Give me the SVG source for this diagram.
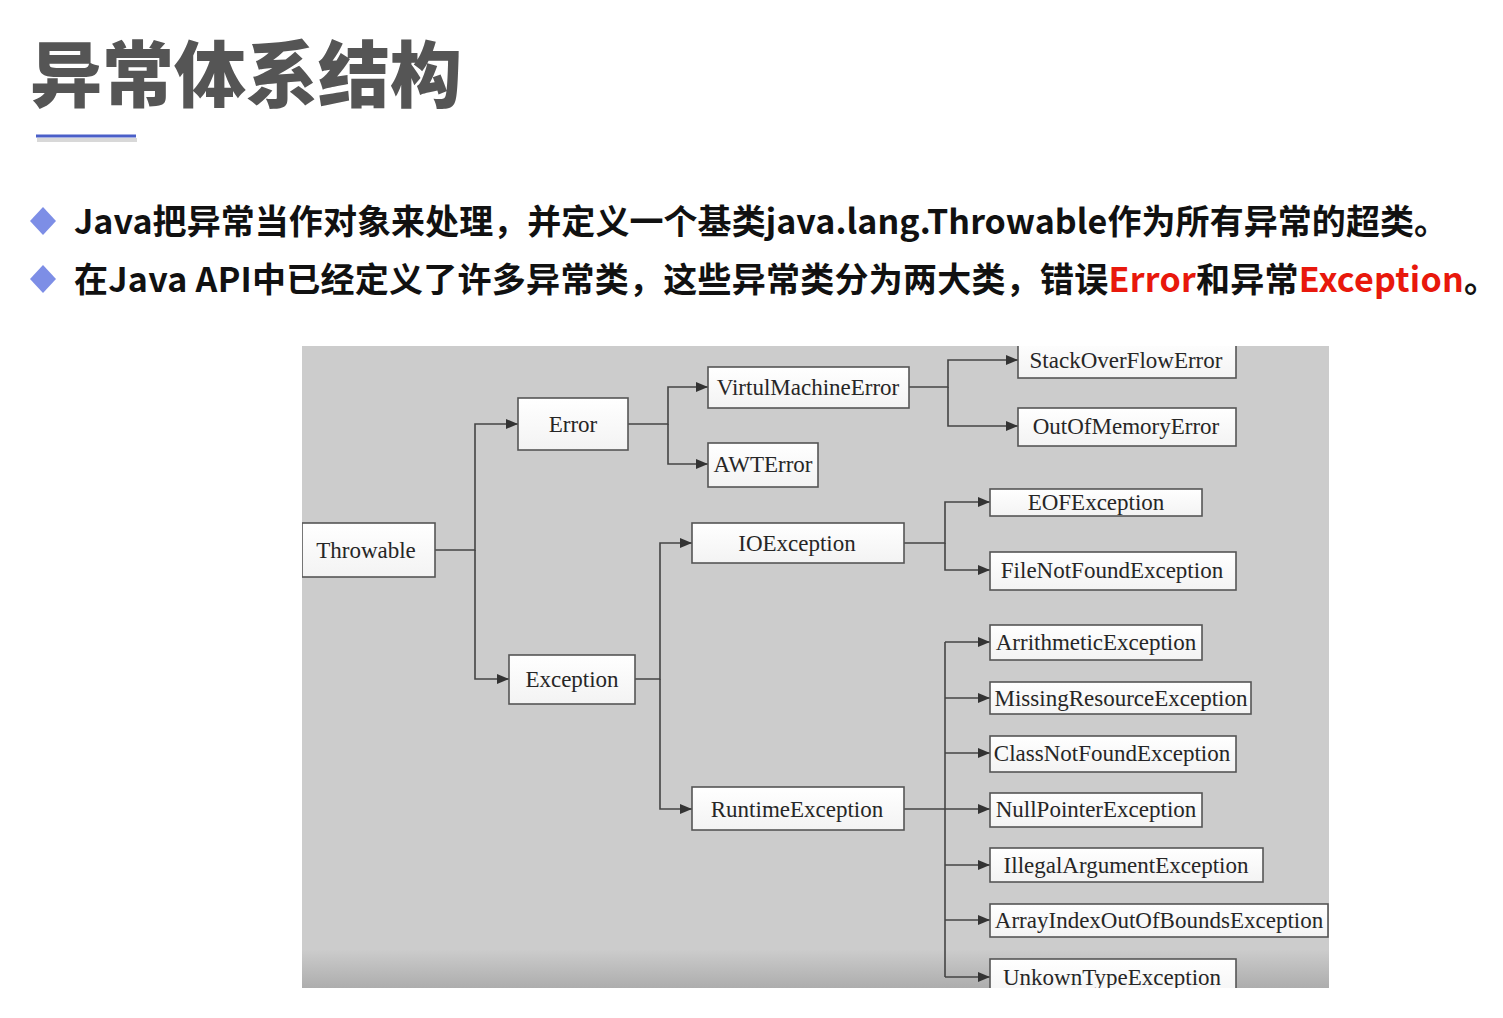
<svg xmlns="http://www.w3.org/2000/svg" width="1503" height="1018" viewBox="0 0 1503 1018">
  <style>
    .title { font-family: "Noto Sans CJK SC", "Noto Sans", sans-serif; font-weight: 900; font-size: 72px; fill: #555555; }
    .bullet { font-family: "Noto Sans CJK SC", "Noto Sans", sans-serif; font-weight: 700; font-size: 34px; fill: #111111; }
    .red { fill: #e8180c; }
    .diamond { fill: #7d8ee6; }
    .box { fill: url(#boxfill); stroke: #555555; stroke-width: 1.6; }
    .lbl { font-family: "Liberation Serif", "Times New Roman", serif; font-size: 23px; fill: #262626; text-anchor: middle; dominant-baseline: central; }
    .conn { fill: none; stroke: #444444; stroke-width: 1.6; }
  </style>
  <defs>
    <linearGradient id="boxfill" x1="0" y1="0" x2="0" y2="1">
      <stop offset="0" stop-color="#ffffff"/>
      <stop offset="1" stop-color="#f3f3f3"/>
    </linearGradient>
    <linearGradient id="panelfill" x1="0" y1="0" x2="0" y2="1">
      <stop offset="0" stop-color="#cccccc"/>
      <stop offset="0.94" stop-color="#cccccc"/>
      <stop offset="1" stop-color="#adadad"/>
    </linearGradient>
    <marker id="arr" markerUnits="userSpaceOnUse" markerWidth="13" markerHeight="12" refX="12" refY="6" orient="auto">
      <path d="M0,1 L12,6 L0,11 z" fill="#333333"/>
    </marker>
    <clipPath id="panelclip">
      <rect x="302" y="346" width="1027" height="642"/>
    </clipPath>
  </defs>

  <rect x="0" y="0" width="1503" height="1018" fill="#ffffff"/>

  <!-- Heading -->
  <text class="title" x="30" y="101">异常体系结构</text>
  <line x1="37" y1="140" x2="137" y2="140" stroke="#d8d8d8" stroke-width="4"/>
  <line x1="36" y1="136" x2="136" y2="136" stroke="#4a5fc8" stroke-width="3"/>

  <!-- Bullets -->
  <polygon class="diamond" points="43,207 56,221 43,235 30,221"/>
  <text class="bullet" x="74" y="234" textLength="1374" lengthAdjust="spacing">Java把异常当作对象来处理，并定义一个基类java.lang.Throwable作为所有异常的超类。</text>
  <polygon class="diamond" points="43,265 56,279 43,293 30,279"/>
  <text class="bullet" x="74" y="292" textLength="1424" lengthAdjust="spacing">在Java API中已经定义了许多异常类，这些异常类分为两大类，错误<tspan class="red">Error</tspan>和异常<tspan class="red">Exception</tspan>。</text>

  <!-- Diagram panel -->
  <rect x="302" y="346" width="1027" height="642" fill="url(#panelfill)"/>

  <g clip-path="url(#panelclip)">
    <g id="connectors">
      <path class="conn" d="M435,550 H475 V424 H518" marker-end="url(#arr)"/>
      <path class="conn" d="M475,550 V679 H509" marker-end="url(#arr)"/>
      <path class="conn" d="M628,424 H668 V387 H708" marker-end="url(#arr)"/>
      <path class="conn" d="M668,424 V464 H708" marker-end="url(#arr)"/>
      <path class="conn" d="M909,387 H948 V360 H1018" marker-end="url(#arr)"/>
      <path class="conn" d="M948,387 V426 H1018" marker-end="url(#arr)"/>
      <path class="conn" d="M635,679 H660 V543 H692" marker-end="url(#arr)"/>
      <path class="conn" d="M660,679 V809 H692" marker-end="url(#arr)"/>
      <path class="conn" d="M904,543 H945 V502 H990" marker-end="url(#arr)"/>
      <path class="conn" d="M945,543 V570 H990" marker-end="url(#arr)"/>
      <path class="conn" d="M904,809 H990" marker-end="url(#arr)"/>
      <path class="conn" d="M945,642 V977"/>
      <path class="conn" d="M945,642 H990" marker-end="url(#arr)"/>
      <path class="conn" d="M945,698 H990" marker-end="url(#arr)"/>
      <path class="conn" d="M945,753 H990" marker-end="url(#arr)"/>
      <path class="conn" d="M945,865 H990" marker-end="url(#arr)"/>
      <path class="conn" d="M945,920 H990" marker-end="url(#arr)"/>
      <path class="conn" d="M945,977 H990" marker-end="url(#arr)"/>
    </g>

    <g id="n-throwable"><rect class="box" x="302" y="523" width="133" height="54"/><text class="lbl" x="366" y="550">Throwable</text></g>
    <g id="n-error"><rect class="box" x="518" y="398" width="110" height="52"/><text class="lbl" x="573" y="424">Error</text></g>
    <g id="n-exception"><rect class="box" x="509" y="655" width="126" height="49"/><text class="lbl" x="572" y="679">Exception</text></g>
    <g id="n-vme"><rect class="box" x="708" y="367" width="201" height="41"/><text class="lbl" x="808" y="387">VirtulMachineError</text></g>
    <g id="n-awt"><rect class="box" x="708" y="443" width="110" height="44"/><text class="lbl" x="763" y="464">AWTError</text></g>
    <g id="n-soe"><rect class="box" x="1018" y="340" width="218" height="38"/><text class="lbl" x="1126" y="360">StackOverFlowError</text></g>
    <g id="n-oom"><rect class="box" x="1018" y="408" width="218" height="38"/><text class="lbl" x="1126" y="426">OutOfMemoryError</text></g>
    <g id="n-io"><rect class="box" x="692" y="523" width="212" height="40"/><text class="lbl" x="797" y="543">IOException</text></g>
    <g id="n-runtime"><rect class="box" x="692" y="787" width="212" height="43"/><text class="lbl" x="797" y="809">RuntimeException</text></g>
    <g id="n-eof"><rect class="box" x="990" y="489" width="212" height="27"/><text class="lbl" x="1096" y="502">EOFException</text></g>
    <g id="n-fnf"><rect class="box" x="990" y="552" width="246" height="38"/><text class="lbl" x="1112" y="570">FileNotFoundException</text></g>
    <g id="n-arith"><rect class="box" x="990" y="625" width="212" height="35"/><text class="lbl" x="1096" y="642">ArrithmeticException</text></g>
    <g id="n-missing"><rect class="box" x="990" y="682" width="261" height="32"/><text class="lbl" x="1121" y="698">MissingResourceException</text></g>
    <g id="n-cnf"><rect class="box" x="990" y="736" width="246" height="36"/><text class="lbl" x="1112" y="753">ClassNotFoundException</text></g>
    <g id="n-npe"><rect class="box" x="990" y="793" width="212" height="34"/><text class="lbl" x="1096" y="809">NullPointerException</text></g>
    <g id="n-iae"><rect class="box" x="990" y="848" width="273" height="34"/><text class="lbl" x="1126" y="865">IllegalArgumentException</text></g>
    <g id="n-aioobe"><rect class="box" x="990" y="904" width="338" height="33"/><text class="lbl" x="1159" y="920">ArrayIndexOutOfBoundsException</text></g>
    <g id="n-unknown"><rect class="box" x="990" y="959" width="246" height="40"/><text class="lbl" x="1112" y="977">UnkownTypeException</text></g>
  </g>
</svg>
